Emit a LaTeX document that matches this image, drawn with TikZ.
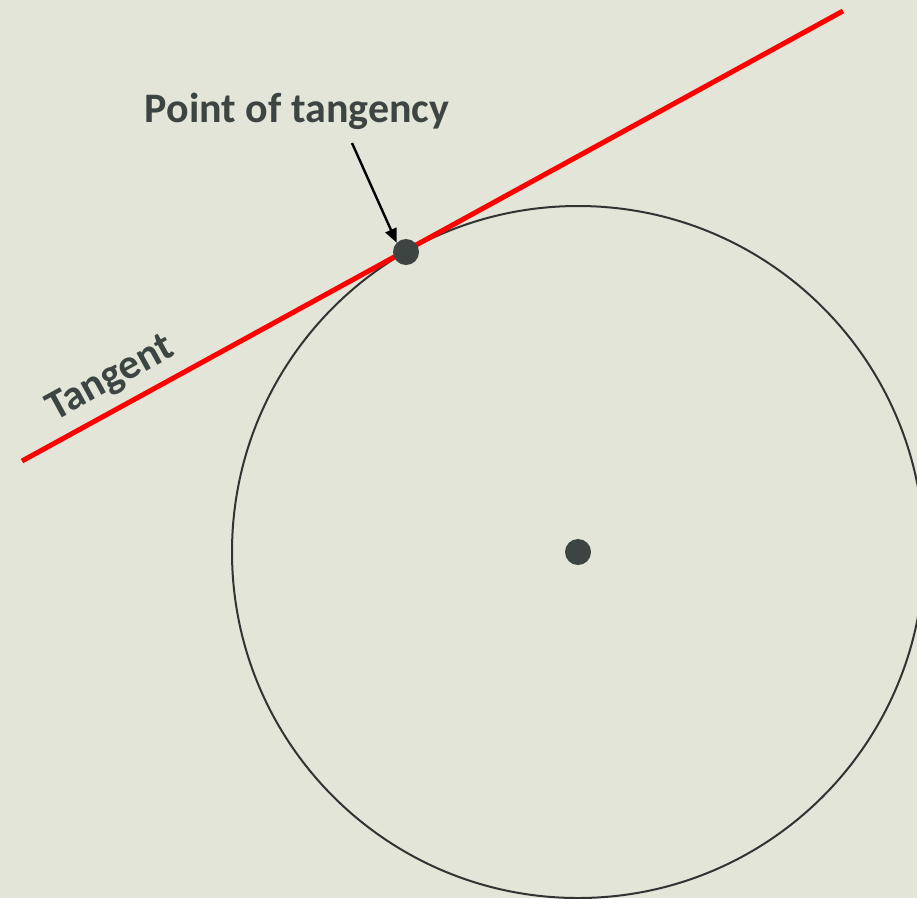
\documentclass[tikz,border=0pt]{standalone}
\usepackage{fontspec}
\setmainfont{Carlito}
\usetikzlibrary{arrows.meta}
\definecolor{bg}{HTML}{E3E5D9}
\definecolor{ink}{HTML}{3C4542}
\begin{document}
\begin{tikzpicture}[x=1pt,y=-1pt,
  dot/.style={circle,fill=ink,inner sep=0pt,minimum size=26pt},
  lbl/.style={text=ink,font=\bfseries\fontsize{42}{46}\selectfont,inner sep=0pt}]
\fill[bg] (0,0) rectangle (917,898);
\useasboundingbox (0,0) rectangle (917,898);
\coordinate (C) at (578,552);
\draw[line width=2pt,color=black!80] (C) circle (346);
\coordinate (T1) at (22,461);
\coordinate (T2) at (843,11);
\draw[red,line width=5pt] (T1) -- (T2);
\node[dot] (P) at (406,252) {};
\node[dot] (O) at (C) {};
\node[lbl] (L) at (297,111) {Point of tangency};
\coordinate (A) at (352,143);
\draw[line width=2.4pt,-{Triangle[length=14pt,width=12pt]}] (A) -- (P.north west);
\node[lbl,rotate=28.7] (TL) at (111,379) {Tangent};
\end{tikzpicture}
\end{document}
